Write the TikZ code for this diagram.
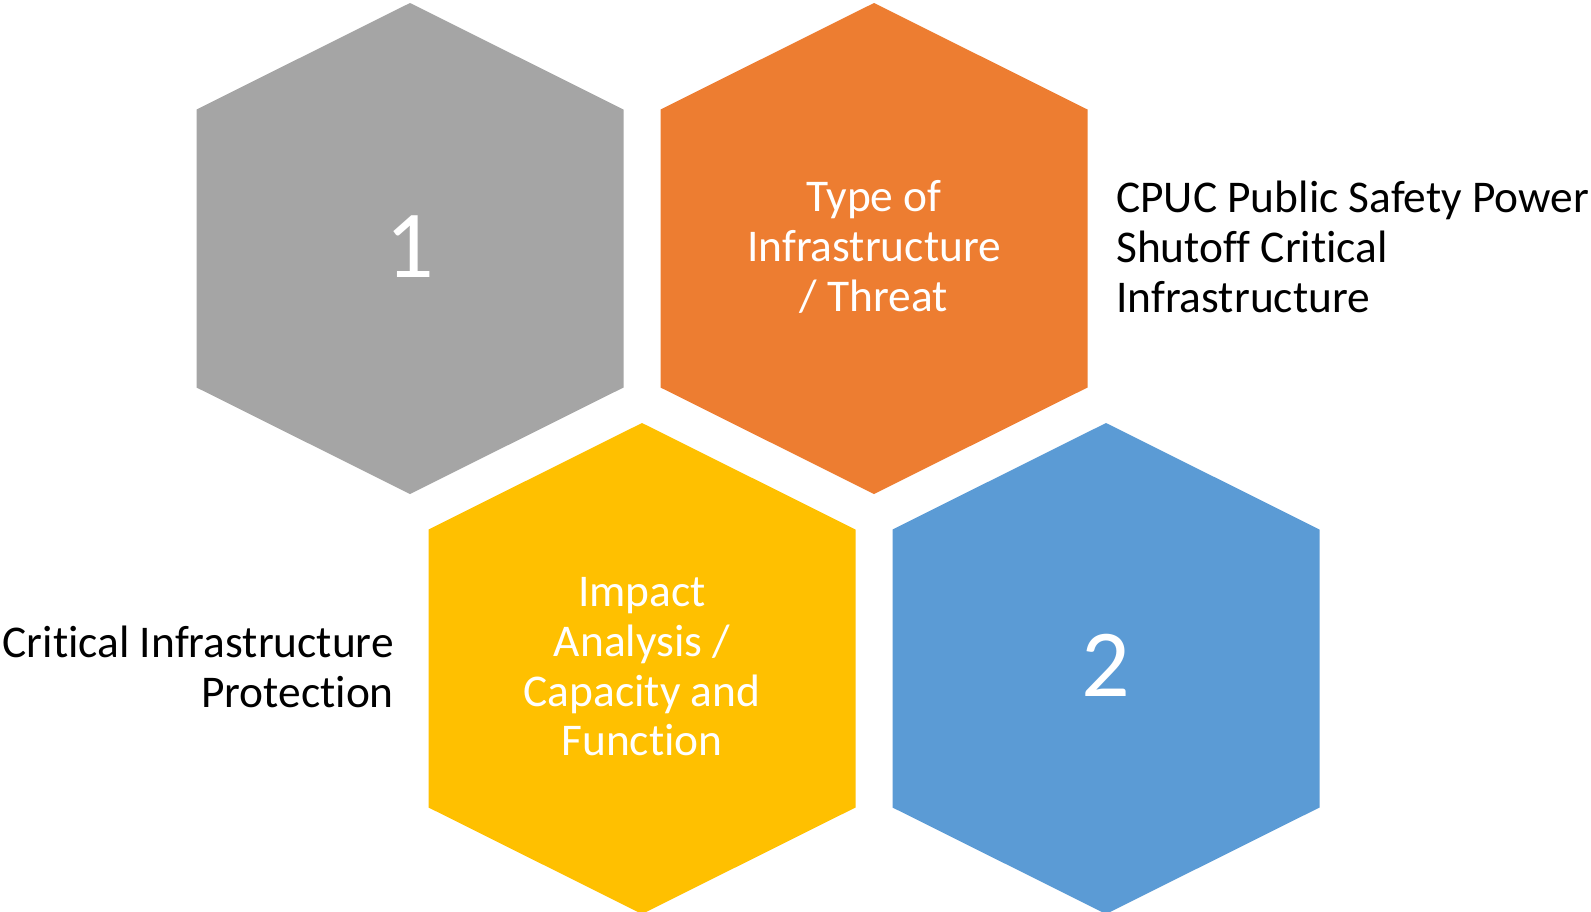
\documentclass[tikz,border=0pt]{standalone}
\usepackage{fontspec}
\setmainfont[Ligatures=NoCommon]{Carlito}
\definecolor{hgray}{HTML}{A5A5A5}
\definecolor{horange}{HTML}{ED7D31}
\definecolor{hyellow}{HTML}{FFC000}
\definecolor{hblue}{HTML}{5B9BD5}
\tikzset{
  hexa/.pic={\fill (0,-245.5) -- (213.5,-139) -- (213.5,139) -- (0,245.5) -- (-213.5,139) -- (-213.5,-139) -- cycle;},
  hextext/.style={text=white, align=center, inner sep=0pt, font=\fontsize{45.4}{49.7}\selectfont},
  bigdigit/.style={text=white, inner sep=0pt, font=\fontsize{96}{110}\selectfont},
  sidetext/.style={text=black, inner sep=0pt, font=\fontsize{45.4}{49.7}\selectfont}
}
\begin{document}
\begin{tikzpicture}[x=1pt,y=-1pt]
\useasboundingbox[fill=white] (0,0) rectangle (1591,911);
\pic[hgray] at (410,248.5) {hexa};
\pic[horange] at (874,248.5) {hexa};
\pic[hyellow] at (642,668.5) {hexa};
\pic[hblue] at (1106,668.5) {hexa};
\node[bigdigit] (one) at (410,246.5) {1};
\node[hextext] (type) at (874,247) {Type of\\Infrastructure\\/ Threat};
\node[hextext] (impact) at (642,667) {Impact\\Analysis /\\Capacity and\\Function};
\node[bigdigit] (two) at (1106,665.5) {2};
\node[sidetext, anchor=west, align=left] (cpuc) at (1116,247) {CPUC Public Safety Power\\Shutoff Critical\\Infrastructure};
\node[sidetext, anchor=east, align=right] (cip) at (394,667) {Critical Infrastructure\\Protection};
\end{tikzpicture}
\end{document}
